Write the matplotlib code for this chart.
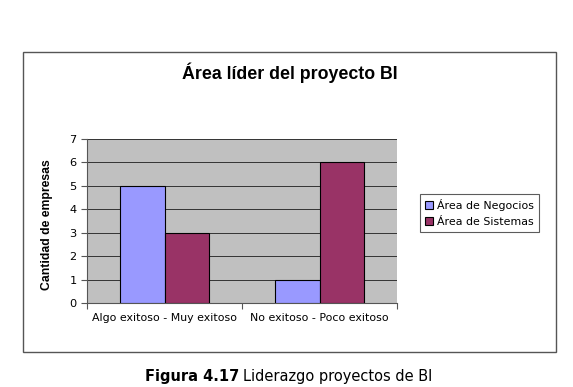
import matplotlib
matplotlib.use("Agg")
import matplotlib.pyplot as plt
import numpy as np
from matplotlib.patches import Rectangle

categories = ["Algo exitoso - Muy exitoso", "No exitoso - Poco exitoso"]
series_names = ["Área de Negocios", "Área de Sistemas"]
negocios = [5, 1]
sistemas = [3, 6]
y_ticks = [0, 1, 2, 3, 4, 5, 6, 7]

W, H = 573, 387
fig = plt.figure(figsize=(W / 100, H / 100), dpi=100, facecolor="white")

# outer chart frame
fig.patches.append(Rectangle((23 / W, 1 - 352 / H), (556 - 23) / W, (352 - 52) / H,
                             transform=fig.transFigure, fill=False,
                             edgecolor="#555555", linewidth=1.0))

ax = fig.add_axes([87 / W, 1 - 303 / H, (397 - 87) / W, (303 - 139) / H])
ax.set_facecolor("#C0C0C0")

x = np.arange(len(categories))
bw = 0.284
ax.bar(x - bw / 2, negocios, bw, color="#9999FF", edgecolor="black", linewidth=0.8,
       label=series_names[0], zorder=3)
ax.bar(x + bw / 2, sistemas, bw, color="#993366", edgecolor="black", linewidth=0.8,
       label=series_names[1], zorder=3)

ax.set_xlim(-0.5, 1.5)
ax.set_ylim(0, 7)
ax.set_yticks(y_ticks)
ax.yaxis.grid(True, color="#333333", linewidth=0.7, zorder=1)
ax.set_axisbelow(True)

ax.set_xticks([-0.5, 0.5, 1.5])
ax.set_xticklabels([])
ax.set_xticks(x, minor=True)
ax.set_xticklabels(categories, minor=True, fontsize=7.9, family="DejaVu Sans")
ax.tick_params(axis="x", which="minor", length=0, pad=7)
ax.tick_params(axis="x", which="major", length=4, direction="out", color="#555555")
ax.tick_params(axis="y", length=4, labelsize=8.2, color="#555555")

for s in ["top", "right"]:
    ax.spines[s].set_visible(False)
ax.spines["left"].set_color("#555555")
ax.spines["bottom"].set_color("#555555")

ax.set_ylabel("Cantidad de empresas", fontsize=8.8, fontweight="bold",
              family="Liberation Sans")
ax.yaxis.set_label_coords((53 - 87) / (397 - 87), 0.48)

fig.text(290 / W, 1 - 73 / H, "Área líder del proyecto BI", ha="center", va="center",
         fontsize=12.8, fontweight="bold", family="Liberation Sans")

leg = fig.legend(loc="upper left", bbox_to_anchor=(420 / W, 1 - 194 / H),
                 frameon=True, fancybox=False, fontsize=7.9, handlelength=0.7,
                 handleheight=0.7, handletextpad=0.4, borderpad=0.45,
                 labelspacing=0.55, borderaxespad=0)
leg.get_frame().set_edgecolor("#333333")
leg.get_frame().set_linewidth(0.8)

fig.text(239 / W, 1 - 377 / H, "Figura 4.17", ha="right", va="center",
         fontsize=10.5, fontweight="bold", family="DejaVu Sans")
fig.text(243 / W, 1 - 377 / H, "Liderazgo proyectos de BI", ha="left", va="center",
         fontsize=10.5, family="DejaVu Sans")

fig.savefig("out.png", dpi=100, facecolor="white")
